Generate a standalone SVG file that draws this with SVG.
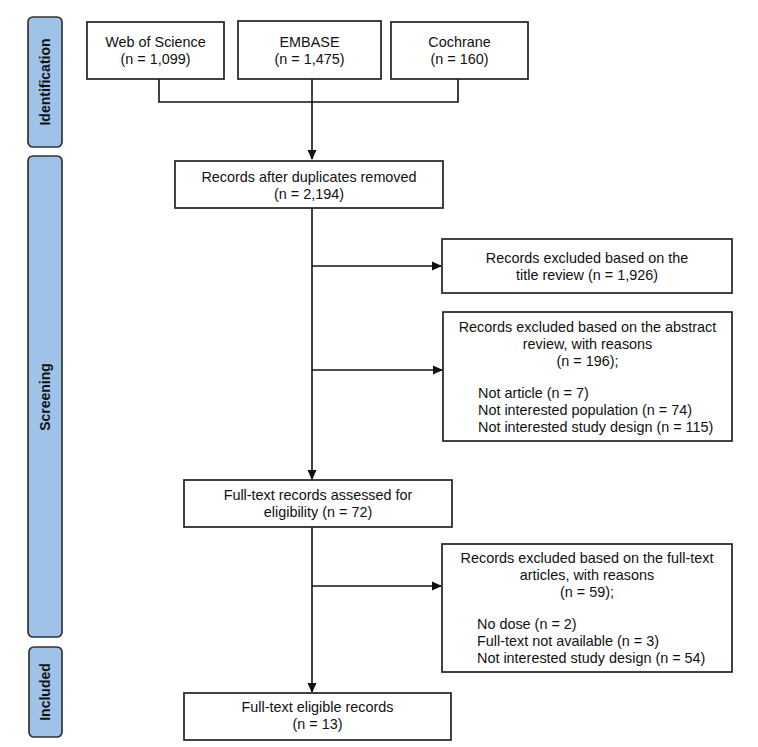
<svg xmlns="http://www.w3.org/2000/svg" width="758" height="747" viewBox="0 0 758 747">
<defs>
<marker id="ah" markerWidth="10" markerHeight="10" refX="9" refY="5" orient="auto" markerUnits="userSpaceOnUse">
<path d="M0,0.5 L10,5 L0,9.5 Z" fill="#111"/>
</marker>
<style>
.box{fill:#fff;stroke:#222;stroke-width:1.7}
.side{fill:#9fc3e8;stroke:#333;stroke-width:1.7}
.t{font-family:"Liberation Sans",Arial,sans-serif;font-size:14.4px;fill:#111}
.c{text-anchor:middle}
.s{font-family:"Liberation Sans",Arial,sans-serif;font-size:14px;font-weight:bold;fill:#111;text-anchor:middle}
.ln{fill:none;stroke:#111;stroke-width:1.6}
</style>
</defs>
<rect width="758" height="747" fill="#fff"/>
<g id="side-identification"><rect class="side" x="28" y="17" width="34" height="130" rx="5"/><text class="s" transform="translate(50,82) rotate(-90)">Identification</text></g>
<g id="side-screening"><rect class="side" x="28" y="156" width="34" height="481" rx="5"/><text class="s" transform="translate(50,397) rotate(-90)">Screening</text></g>
<g id="side-included"><rect class="side" x="29" y="647" width="33" height="90" rx="5"/><text class="s" transform="translate(50,692) rotate(-90)">Included</text></g>
<g id="connectors">
<polyline class="ln" points="159,79 159,102 458,102 458,79"/>
<line class="ln" x1="312" y1="79" x2="312" y2="159" marker-end="url(#ah)"/>
<line class="ln" x1="312" y1="208" x2="312" y2="479" marker-end="url(#ah)"/>
<line class="ln" x1="312" y1="266" x2="441" y2="266" marker-end="url(#ah)"/>
<line class="ln" x1="312" y1="370" x2="442" y2="370" marker-end="url(#ah)"/>
<line class="ln" x1="312" y1="527" x2="312" y2="692" marker-end="url(#ah)"/>
<line class="ln" x1="312" y1="586" x2="441" y2="586" marker-end="url(#ah)"/>
</g>
<g id="wos"><rect class="box" x="87" y="22" width="137" height="57"/><text class="t c" x="155.5" y="47">Web of Science</text><text class="t c" x="155.5" y="64">(n = 1,099)</text></g>
<g id="embase"><rect class="box" x="238" y="21" width="143" height="58"/><text class="t c" x="309.5" y="47">EMBASE</text><text class="t c" x="309.5" y="64">(n = 1,475)</text></g>
<g id="cochrane"><rect class="box" x="391" y="22" width="137" height="57"/><text class="t c" x="459.5" y="47">Cochrane</text><text class="t c" x="459.5" y="64">(n = 160)</text></g>
<g id="dedup"><rect class="box" x="175" y="161" width="268" height="47"/><text class="t c" x="309" y="182">Records after duplicates removed</text><text class="t c" x="309" y="199">(n = 2,194)</text></g>
<g id="title-excl"><rect class="box" x="442" y="239" width="290" height="54"/><text class="t c" x="587" y="263">Records excluded based on the</text><text class="t c" x="587" y="280">title review (n = 1,926)</text></g>
<g id="abstract-excl"><rect class="box" x="443" y="312" width="289" height="129"/>
<text class="t c" x="587.5" y="332">Records excluded based on the abstract</text>
<text class="t c" x="587.5" y="349">review, with reasons</text>
<text class="t c" x="587.5" y="366">(n = 196);</text>
<text class="t" x="478" y="398">Not article (n = 7)</text>
<text class="t" x="478" y="415">Not interested population (n = 74)</text>
<text class="t" x="478" y="432">Not interested study design (n = 115)</text></g>
<g id="fulltext"><rect class="box" x="184" y="480" width="268" height="47"/><text class="t c" x="318" y="500">Full-text records assessed for</text><text class="t c" x="318" y="517">eligibility (n = 72)</text></g>
<g id="fulltext-excl"><rect class="box" x="442" y="544" width="290" height="128"/>
<text class="t c" x="587" y="563">Records excluded based on the full-text</text>
<text class="t c" x="587" y="580">articles, with reasons</text>
<text class="t c" x="587" y="597">(n = 59);</text>
<text class="t" x="477" y="629">No dose (n = 2)</text>
<text class="t" x="477" y="646">Full-text not available (n = 3)</text>
<text class="t" x="477" y="663">Not interested study design (n = 54)</text></g>
<g id="included"><rect class="box" x="184" y="693" width="267" height="47"/><text class="t c" x="317.5" y="712">Full-text eligible records</text><text class="t c" x="317.5" y="729">(n = 13)</text></g>
</svg>
